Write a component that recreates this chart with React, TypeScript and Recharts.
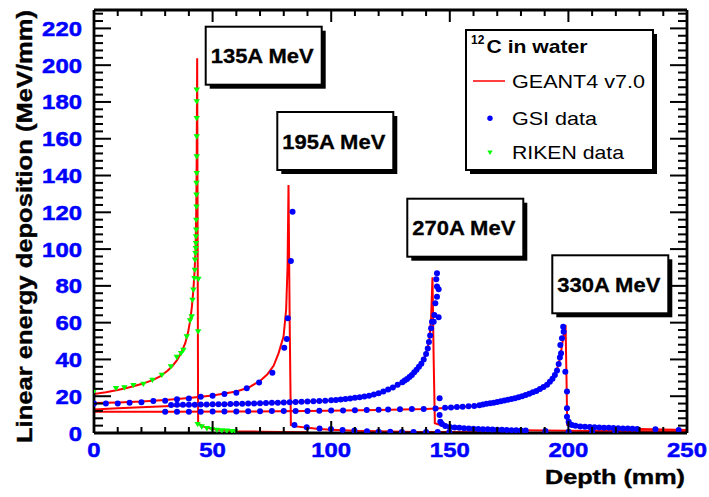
import React from 'react';
import { ComposedChart, Line, Scatter, XAxis, YAxis } from 'recharts';

const FONT = '"Liberation Sans", Arial, Helvetica, sans-serif';

// ---- axis ticks / labels ----
const xTicks = [0, 10, 20, 30, 40, 50, 60, 70, 80, 90, 100, 110, 120, 130, 140, 150, 160, 170, 180, 190, 200, 210, 220, 230, 240, 250];
const xLabels = [0, 50, 100, 150, 200, 250];
const yTicks = [0, 4, 8, 12, 16, 20, 24, 28, 32, 36, 40, 44, 48, 52, 56, 60, 64, 68, 72, 76, 80, 84, 88, 92, 96, 100, 104, 108, 112, 116, 120, 124, 128, 132, 136, 140, 144, 148, 152, 156, 160, 164, 168, 172, 176, 180, 184, 188, 192, 196, 200, 204, 208, 212, 216, 220, 224, 228];
const yLabels = [0, 20, 40, 60, 80, 100, 120, 140, 160, 180, 200, 220];

const xTitle = 'Depth (mm)';
const yTitle = 'Linear energy deposition (MeV/mm)';
const legendTitle = 'C in water';
const legendSup = '12';
const legendNames = ['GEANT4 v7.0', 'GSI data', 'RIKEN data'];
const beamLabels = ['135A MeV', '195A MeV', '270A MeV', '330A MeV'];

// ---- GEANT4 v7.0 simulation curves [depth mm, LET MeV/mm] ----
const g4_135 = [[0, 21.2], [5, 22.2], [10, 23.4], [15, 24.9], [20, 26.6], [25, 28.9], [28, 30.9], [31, 33.8], [33, 36.3], [35, 39.6], [37, 44.2], [38.5, 49], [39.7, 55], [40.6, 61.5], [41.3, 69], [41.9, 78], [42.4, 88], [42.8, 100], [43.1, 120], [43.3, 150], [43.5, 203.7], [43.7, 100], [43.9, 5.3], [45, 4.2], [47, 3.1], [50, 2.2], [53, 1.7], [56, 1.3], [60, 1.0], [70, 0.7], [80, 0.5], [90, 0.4]];
const g4_195 = [[0, 16.3], [10, 16.6], [20, 17.1], [30, 17.9], [40, 19.0], [50, 20.4], [60, 22.6], [65, 24.6], [70, 28.3], [73, 31.8], [75.7, 36.5], [77.8, 43.3], [79.9, 52.4], [81, 66.9], [81.6, 90.4], [82.0, 134.8], [82.5, 60], [83.0, 4.3], [85, 3.6], [90, 2.8], [95, 2.2], [100, 1.8], [110, 1.2], [120, 0.9], [135, 0.6], [150, 0.5], [165, 0.4]];
const g4_270 = [[0, 12.8], [10, 13.4], [20, 14.0], [30, 14.6], [40, 15.1], [60, 15.8], [80, 16.6], [100, 17.7], [110, 18.8], [120, 21.0], [125, 23.8], [130, 27.3], [135, 32.5], [138, 37.5], [140, 43], [141.3, 50], [142.1, 62], [142.7, 84.7], [143.2, 40], [143.7, 5.3], [146, 4.3], [150, 3.4], [155, 2.8], [160, 2.4], [170, 1.9], [180, 1.5], [190, 1.3], [210, 1.1], [250, 0.9]];
const g4_330 = [[0, 11.6], [30, 11.6], [60, 11.7], [90, 11.9], [120, 12.5], [140, 13.1], [150, 13.7], [160, 14.7], [165, 15.8], [170, 16.9], [175, 18.2], [180, 19.8], [185, 22.1], [190, 25.8], [193, 29.5], [195, 33.5], [196.5, 41], [197.6, 50], [198.8, 58.7], [199.2, 30], [199.5, 4.4], [202, 3.8], [206, 3.4], [210, 3.1], [220, 2.6], [230, 2.2], [240, 1.9], [250, 1.6]];

// ---- GSI data ----
const gsi195 = [[0, 16.1], [5, 16.1], [10, 16.1], [15, 16.5], [20, 16.7], [25, 17.4], [30, 17.6], [35, 18.3], [40, 18.7], [45, 19.7], [50, 20.3], [55, 21.2], [60, 21.9], [64.4, 24.3], [69.6, 27.4], [75.2, 32.8], [80.2, 46.4], [81.3, 51.1], [81.7, 62.4], [83.0, 93.5], [83.7, 120.3], [84.5, 4.4], [89.7, 3.1], [95.1, 2.5], [99.9, 2.2], [104.8, 1.6], [109.8, 1.3], [115.1, 0.9], [120, 0.7], [124.9, 0.7], [129.8, 0.6], [134.7, 0.6], [140, 0.5], [144.9, 0.5], [149.8, 0.5]];
const gsi270 = [[32.5, 15.2], [35, 15.3], [37.5, 15.3], [40, 15.4], [42.5, 15.4], [45, 15.5], [47.5, 15.5], [50, 15.6], [52.5, 15.6], [55, 15.7], [57.5, 15.8], [60, 15.9], [62.5, 15.9], [65, 16.0], [67.5, 16.1], [70, 16.2], [72.5, 16.3], [75, 16.4], [77.5, 16.5], [80, 16.6], [82.5, 16.7], [85, 16.8], [87.5, 17.0], [90, 17.1], [92.5, 17.3], [95, 17.4], [97.5, 17.6], [100, 17.8], [102, 18.0], [104, 18.2], [106, 18.5], [108, 18.8], [110, 19.1], [112, 19.4], [114, 19.8], [116, 20.3], [118, 20.9], [120, 21.6], [122, 22.5], [124, 23.6], [126, 24.8], [128, 26.2], [130, 27.6], [131, 28.5], [132, 29.4], [133, 30.4], [134, 31.6], [135, 33.0], [136, 34.4], [137, 36.0], [138, 37.6], [139, 40.0], [140, 43.0], [140.7, 46.0], [141.2, 49.5], [141.7, 53.0], [142.1, 57.0], [142.5, 60.5], [143.2, 60.5], [143.5, 64.2], [143.9, 70.5], [144.6, 74.1], [144.6, 79.6], [144.3, 83.6], [144.6, 86.8], [145.3, 78.1], [145.3, 62.9], [145.7, 18.9], [145.7, 9.8], [146.0, 6.1], [146.7, 4.9], [148.1, 3.8], [150, 3.3], [152, 3.0], [154, 2.8], [156, 2.6], [158, 2.4], [160, 2.3], [162, 2.2], [164, 2.1], [166, 2.0], [168, 1.9], [170, 1.8], [172, 1.7], [174, 1.6], [176, 1.5], [178, 1.5], [180, 1.4], [182, 1.3], [190.3, 1.1], [200.1, 0.7], [210, 0.7], [219.8, 0.7]];
const gsi330 = [[30, 11.6], [35, 11.6], [40, 11.6], [45, 11.6], [50, 11.7], [55, 11.7], [60, 11.7], [65, 11.8], [70, 11.8], [75, 11.9], [80, 11.9], [85, 12.0], [90, 12.0], [95, 12.1], [100, 12.2], [105, 12.3], [110, 12.4], [115, 12.5], [120, 12.7], [124, 12.8], [129, 12.9], [134, 13.0], [139, 13.1], [144, 13.3], [148, 13.7], [150.5, 13.9], [153, 14.1], [155.4, 14.3], [157.9, 14.5], [160.3, 14.7], [162.5, 15.1], [164, 15.5], [165.5, 15.9], [167, 16.2], [168.5, 16.5], [170, 16.9], [171.5, 17.3], [173, 17.7], [174.5, 18.1], [176, 18.5], [177.5, 18.9], [179, 19.4], [180.5, 20.0], [182, 20.7], [183.5, 21.4], [185, 22.1], [186.5, 22.9], [188, 23.9], [189.5, 25.0], [191, 26.3], [192.2, 27.8], [193.3, 29.5], [194.3, 31.5], [195.2, 34.0], [195.9, 37.5], [196.4, 41.0], [196.6, 47.9], [196.9, 43.3], [197.3, 51.5], [197.8, 57.8], [198.0, 55.1], [198.7, 33.3], [199.4, 22.5], [199.4, 13.4], [199.4, 8.9], [200.1, 6.1], [200.5, 4.9], [201.5, 4.3], [203, 3.9], [205, 3.6], [207, 3.4], [209, 3.2], [211, 3.1], [213, 3.0], [215, 2.9], [217, 2.8], [219, 2.7], [221, 2.6], [223, 2.5], [225, 2.4], [227, 2.3], [229, 2.2], [236.7, 2.0], [246.5, 1.6]];

// ---- RIKEN data (135A MeV) ----
const riken135 = [[0.1, 23.0], [9.3, 24.3], [12.8, 24.6], [16.6, 25.9], [20.8, 26.6], [24.6, 28.8], [28.6, 31.5], [32.4, 36.1], [34.9, 41.2], [36.7, 43.3], [37.7, 45.1], [39.1, 52.4], [40.5, 61.1], [41.2, 63.2], [41.5, 72.3], [41.9, 77.8], [42.3, 84.1], [42.5, 88.6], [42.6, 94.1], [42.8, 97.7], [42.9, 100.4], [43.0, 103.1], [43.0, 106.7], [43.1, 110.4], [43.1, 115.8], [43.2, 123.0], [43.2, 129.4], [43.2, 135.8], [43.3, 141.2], [43.3, 150.2], [43.3, 161.1], [43.3, 171.1], [43.3, 180.2], [43.3, 186.5], [43.9, 55.1], [44.0, 83.6], [43.7, 4.7], [45.4, 3.4], [47.6, 2.5], [49.7, 2.0], [51.8, 1.6], [53.9, 1.3], [56.0, 1.1], [58.1, 0.9], [59.5, 0.7]];

const toPts = (a: number[][]) => a.map(([x, y]) => ({ x, y }));

const BLUE = '#0000ff';
const RED = '#ff0000';
const GREEN = '#00ff00';

const ticksLabelProps = {
  fontFamily: FONT,
  fontWeight: 'bold' as const,
  fontSize: 21,
  fill: BLUE,
  stroke: BLUE,
  strokeWidth: 0.5,
  lengthAdjust: 'spacingAndGlyphs' as const,
};

const LeftTick = (p: any) => {
  const v = p.payload.value;
  const major = yLabels.includes(v);
  return (
    <g>
      <line x1={p.x} x2={p.x + (major ? 17 : 9)} y1={p.y} y2={p.y} stroke="#000" strokeWidth={2} />
      {major && (
        <text x={p.x - 12} y={p.y + 7.5} textAnchor="end" textLength={13.3 * String(v).length} {...ticksLabelProps}>
          {v}
        </text>
      )}
    </g>
  );
};
const RightTick = (p: any) => {
  const v = p.payload.value;
  const major = yLabels.includes(v);
  return <line x1={p.x} x2={p.x - (major ? 17 : 9)} y1={p.y} y2={p.y} stroke="#000" strokeWidth={2} />;
};
const BottomTick = (p: any) => {
  const v = p.payload.value;
  const major = xLabels.includes(v);
  return (
    <g>
      <line x1={p.x} x2={p.x} y1={p.y} y2={p.y - (major ? 12 : 6)} stroke="#000" strokeWidth={2} />
      {major && (
        <text x={p.x} y={p.y + 24} textAnchor="middle" textLength={13.3 * String(v).length} {...ticksLabelProps}>
          {v}
        </text>
      )}
    </g>
  );
};
const TopTick = (p: any) => {
  const v = p.payload.value;
  const major = xLabels.includes(v);
  return <line x1={p.x} x2={p.x} y1={p.y} y2={p.y + (major ? 12 : 6)} stroke="#000" strokeWidth={2} />;
};

const BlueDot = (p: any) => <circle cx={p.cx} cy={p.cy} r={3} fill={BLUE} />;
const GreenTri = (p: any) => (
  <polygon points={`${p.cx - 3.2},${p.cy - 2.4} ${p.cx + 3.2},${p.cy - 2.4} ${p.cx},${p.cy + 3}`} fill={GREEN} />
);

const beamBoxes = [
  { x: 205.7, y: 26.7 },
  { x: 277.3, y: 112 },
  { x: 407.3, y: 198.7 },
  { x: 552.3, y: 255.3 },
];

const ShadowBox = ({ x, y, w, h, children }: any) => (
  <g>
    <rect x={x + 4} y={y + 4} width={w} height={h} fill="#000" />
    <rect x={x} y={y} width={w} height={h} fill="#fff" stroke="#000" strokeWidth={2} />
    {children}
  </g>
);

export default function App() {
  const axisLine = { stroke: '#000', strokeWidth: 2.8 };
  return (
    <div style={{ position: 'absolute', left: 0, top: 0, width: 709, height: 497, background: '#fff' }}>
      <ComposedChart width={709} height={497} margin={{ top: 9, right: 21, bottom: 63, left: 93 }}>
        <XAxis xAxisId="b" type="number" dataKey="x" domain={[0, 250]} ticks={xTicks} interval={0} orientation="bottom" height={1} tickSize={0} tickMargin={0} tickLine={false} axisLine={axisLine} tick={<BottomTick />} allowDataOverflow />
        <XAxis xAxisId="t" type="number" dataKey="x" domain={[0, 250]} ticks={xTicks} interval={0} orientation="top" height={1} tickSize={0} tickMargin={0} tickLine={false} axisLine={axisLine} tick={<TopTick />} allowDataOverflow />
        <YAxis yAxisId="l" type="number" dataKey="y" domain={[0, 230]} ticks={yTicks} interval={0} orientation="left" width={1} tickSize={0} tickMargin={0} tickLine={false} axisLine={axisLine} tick={<LeftTick />} allowDataOverflow />
        <YAxis yAxisId="r" type="number" dataKey="y" domain={[0, 230]} ticks={yTicks} interval={0} orientation="right" width={1} tickSize={0} tickMargin={0} tickLine={false} axisLine={axisLine} tick={<RightTick />} allowDataOverflow />

        {[g4_135, g4_195, g4_270, g4_330].map((d, i) => (
          <Line key={'g4' + i} xAxisId="b" yAxisId="l" data={toPts(d)} dataKey="y" type="linear" stroke={RED} strokeWidth={2} dot={false} activeDot={false} isAnimationActive={false} />
        ))}
        {[gsi195, gsi270, gsi330].map((d, i) => (
          <Scatter key={'gsi' + i} xAxisId="b" yAxisId="l" data={toPts(d)} dataKey="y" fill={BLUE} shape={<BlueDot />} isAnimationActive={false} />
        ))}
        <Scatter xAxisId="b" yAxisId="l" data={toPts(riken135)} dataKey="y" fill={GREEN} shape={<GreenTri />} isAnimationActive={false} />
      </ComposedChart>

      <svg width={709} height={497} style={{ position: 'absolute', left: 0, top: 0, pointerEvents: 'none' }}>
        <text x={32} y={226.5} transform="rotate(-90 32 226.5)" textAnchor="middle" fontFamily={FONT} fontWeight="bold" fontSize={22} textLength={433} lengthAdjust="spacingAndGlyphs" fill="#000" stroke="#000" strokeWidth={0.4}>
          {yTitle}
        </text>
        <text x={685} y={484} textAnchor="end" fontFamily={FONT} fontWeight="bold" fontSize={21} textLength={140} lengthAdjust="spacingAndGlyphs" fill="#000" stroke="#000" strokeWidth={0.4}>
          {xTitle}
        </text>

        {beamBoxes.map((b, i) => (
          <ShadowBox key={i} x={b.x} y={b.y} w={116} h={58}>
            <text x={b.x + 5} y={b.y + 36.6} fontFamily={FONT} fontWeight="bold" fontSize={20.5} textLength={103} lengthAdjust="spacingAndGlyphs" fill="#000" stroke="#000" strokeWidth={0.3}>
              {beamLabels[i]}
            </text>
          </ShadowBox>
        ))}

        <ShadowBox x={466} y={30} w={187} h={140}>
          <text x={471} y={44} fontFamily={FONT} fontWeight="bold" fontSize={12} fill="#000">{legendSup}</text>
          <text x={486.5} y={53.3} fontFamily={FONT} fontWeight="bold" fontSize={19} textLength={101} lengthAdjust="spacingAndGlyphs" fill="#000">{legendTitle}</text>
          <line x1={473} x2={505} y1={81} y2={81} stroke={RED} strokeWidth={1.5} />
          <text x={512} y={88.3} fontFamily={FONT} fontSize={19} textLength={133} lengthAdjust="spacingAndGlyphs" fill="#000">{legendNames[0]}</text>
          <circle cx={490} cy={118.3} r={2.7} fill={BLUE} />
          <text x={512} y={124.5} fontFamily={FONT} fontSize={19} textLength={85} lengthAdjust="spacingAndGlyphs" fill="#000">{legendNames[1]}</text>
          <polygon points="487.3,150.5 492.7,150.5 490,155.1" fill={GREEN} />
          <text x={512} y={158.5} fontFamily={FONT} fontSize={19} textLength={112} lengthAdjust="spacingAndGlyphs" fill="#000">{legendNames[2]}</text>
        </ShadowBox>
      </svg>
    </div>
  );
}
